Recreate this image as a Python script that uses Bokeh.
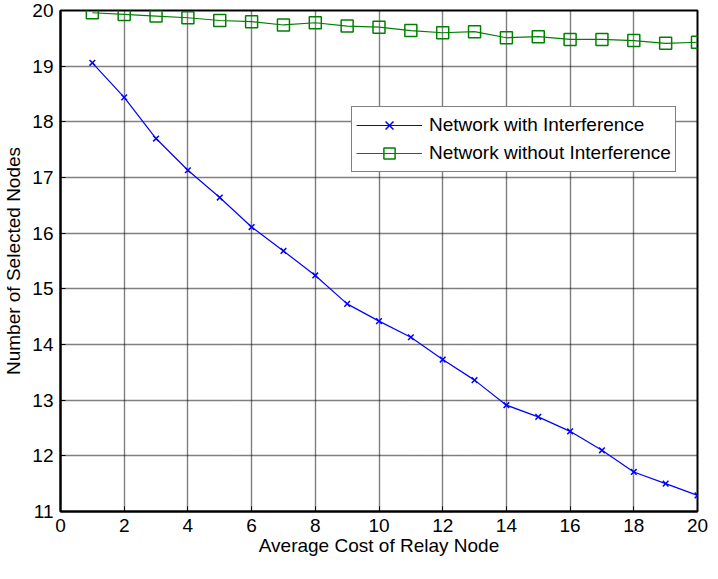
from bokeh.plotting import figure
from bokeh.models import Range1d, FixedTicker, Legend, LegendItem
from bokeh.embed import file_html
from bokeh.resources import INLINE

cost = list(range(1, 21))
with_interf = [19.06, 18.44, 17.70, 17.13, 16.64, 16.11, 15.68, 15.24, 14.73, 14.42,
               14.13, 13.73, 13.36, 12.91, 12.70, 12.44, 12.10, 11.71, 11.50, 11.29]
without_interf = [19.96, 19.93, 19.90, 19.87, 19.82, 19.80, 19.74, 19.78, 19.72, 19.70,
                  19.64, 19.60, 19.62, 19.51, 19.53, 19.48, 19.48, 19.46, 19.41, 19.43]
x_ticks = list(range(0, 21, 2))
y_ticks = list(range(11, 21))

FONT = "Liberation Sans"
FS = "19px"

p = figure(width=708, height=563, output_backend="svg", toolbar_location=None,
           x_range=Range1d(0, 20), y_range=Range1d(11, 20),
           min_border_left=56, min_border_right=11, min_border_top=10, min_border_bottom=52)

p.outline_line_color = "black"
p.outline_line_width = 2
p.background_fill_color = "white"
p.border_fill_color = "white"

for ax in (p.xaxis[0], p.yaxis[0]):
    ax.axis_line_color = "black"
    ax.axis_line_width = 2
    ax.major_tick_in = 5
    ax.major_tick_out = 0
    ax.minor_tick_line_color = None
    ax.major_label_text_font = FONT
    ax.major_label_text_font_size = FS
    ax.major_label_text_color = "black"
    ax.axis_label_text_font = FONT
    ax.axis_label_text_font_size = FS
    ax.axis_label_text_font_style = "normal"
    ax.axis_label_text_color = "black"

p.xaxis.ticker = FixedTicker(ticks=x_ticks)
p.yaxis.ticker = FixedTicker(ticks=y_ticks)
p.xaxis.axis_label = "Average Cost of Relay Node"
p.yaxis.axis_label = "Number of Selected Nodes"
p.xaxis.major_label_standoff = 7
p.xaxis.axis_label_standoff = 0
p.yaxis.major_label_standoff = 7
p.yaxis.axis_label_standoff = 5

p.grid.grid_line_color = "black"
p.grid.grid_line_dash = "1 1"
p.grid.grid_line_width = 1.4

blue = "#0000FF"
green = "#008000"

l1 = p.line(cost, with_interf, line_color=blue, line_width=1.2)
m1 = p.scatter(cost, with_interf, marker="x", size=8, line_color=blue, line_width=1.5)
l2 = p.line(cost, without_interf, line_color=green, line_width=1.2)
m2 = p.scatter(cost, without_interf, marker="square", size=12, line_color=green,
               fill_color=None, line_width=1.5)

legend = Legend(items=[
    LegendItem(label="Network with Interference", renderers=[l1, m1]),
    LegendItem(label="Network without Interference", renderers=[l2, m2]),
], location=(291, 339))
legend.label_text_font = FONT
legend.label_text_font_size = FS
legend.label_text_color = "black"
legend.border_line_color = "black"
legend.border_line_width = 1.5
legend.background_fill_color = "white"
legend.background_fill_alpha = 1.0
legend.glyph_width = 66
legend.glyph_height = 28
legend.label_height = 28
legend.label_standoff = 7
legend.padding = 4
legend.spacing = 0
legend.margin = 0
p.add_layout(legend, "center")

open("out.html", "w").write(file_html(p, INLINE))
